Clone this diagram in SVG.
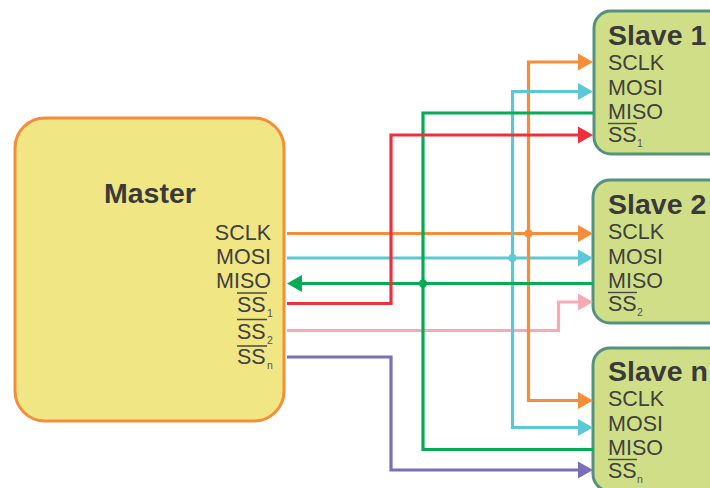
<svg xmlns="http://www.w3.org/2000/svg" width="710" height="488" viewBox="0 0 710 488">
<style>
text{font-family:"Liberation Sans",Arial,sans-serif;fill:#404040}
.t{font-size:28.5px;font-weight:bold;fill:#3a3a3a}
.st{font-size:28.5px;font-weight:bold;fill:#3a3a3a}
.l{font-size:21.500px}
.s{font-size:10.500px;fill:#555}
.r{text-anchor:end}
.o{stroke:#4a4a4a;stroke-width:1.4;fill:none}
.m{fill:#f0e683;stroke:#f68d3a;stroke-width:3}
.n{fill:#d0df87;stroke:#55917f;stroke-width:3}
.c{fill:none;stroke-width:3.2}
.org{stroke:#f68d3a}.blu{stroke:#5cc8d6}.grn{stroke:#06ab55}.red{stroke:#ee2f3c}.pnk{stroke:#f6abb4}.pur{stroke:#7a6fb8}
</style>
<defs>
<marker id="ao" markerUnits="userSpaceOnUse" markerWidth="16" markerHeight="18" refX="0" refY="9" orient="auto"><path d="M0 0.500L15 9L0 17.500Z" fill="#f68d3a"/></marker>
<marker id="ab" markerUnits="userSpaceOnUse" markerWidth="16" markerHeight="18" refX="0" refY="9" orient="auto"><path d="M0 0.500L15 9L0 17.500Z" fill="#5cc8d6"/></marker>
<marker id="ag" markerUnits="userSpaceOnUse" markerWidth="16" markerHeight="18" refX="0" refY="9" orient="auto"><path d="M0 0.500L15 9L0 17.500Z" fill="#06ab55"/></marker>
<marker id="ar" markerUnits="userSpaceOnUse" markerWidth="16" markerHeight="18" refX="0" refY="9" orient="auto"><path d="M0 0.500L15 9L0 17.500Z" fill="#ee2f3c"/></marker>
<marker id="ap" markerUnits="userSpaceOnUse" markerWidth="16" markerHeight="18" refX="0" refY="9" orient="auto"><path d="M0 0.500L15 9L0 17.500Z" fill="#f6abb4"/></marker>
<marker id="au" markerUnits="userSpaceOnUse" markerWidth="16" markerHeight="18" refX="0" refY="9" orient="auto"><path d="M0 0.500L15 9L0 17.500Z" fill="#7a6fb8"/></marker>
</defs>
<g id="master">
<rect class="m" x="15" y="118" width="269" height="303" rx="30"/>
<text class="t" x="104" y="203">Master</text>
<text class="l r" x="271" y="240">SCLK</text>
<text class="l r" x="271" y="264">MOSI</text>
<text class="l r" x="271" y="288">MISO</text>
<path class="o" d="M237 293H267M237 319.500H267M237 346H267"/>
<text class="l" x="237" y="312">SS</text><text class="s" x="267" y="317">1</text>
<text class="l" x="237" y="339">SS</text><text class="s" x="267" y="344">2</text>
<text class="l" x="237" y="364">SS</text><text class="s" x="267" y="369">n</text>
</g>
<g id="slave1">
<rect class="n" x="594" y="11" width="140" height="143" rx="17"/>
<text class="st" x="608" y="45">Slave 1</text>
<text class="l" x="608" y="70">SCLK</text>
<text class="l" x="608" y="95">MOSI</text>
<text class="l" x="608" y="119">MISO</text>
<path class="o" d="M608 123.500H637"/>
<text class="l" x="608" y="142">SS</text><text class="s" x="637" y="147">1</text>
</g>
<g id="slave2">
<rect class="n" x="593" y="180" width="140" height="143" rx="17"/>
<text class="st" x="608" y="214">Slave 2</text>
<text class="l" x="608" y="239">SCLK</text>
<text class="l" x="608" y="264">MOSI</text>
<text class="l" x="608" y="288">MISO</text>
<path class="o" d="M608 292.500H637"/>
<text class="l" x="608" y="311">SS</text><text class="s" x="637" y="316">2</text>
</g>
<g id="slaven">
<rect class="n" x="593" y="348" width="140" height="143" rx="17"/>
<text class="st" x="608" y="381">Slave n</text>
<text class="l" x="608" y="406">SCLK</text>
<text class="l" x="608" y="431">MOSI</text>
<text class="l" x="608" y="455">MISO</text>
<path class="o" d="M608 459.500H637"/>
<text class="l" x="608" y="478">SS</text><text class="s" x="637" y="483">n</text>
</g>
<g id="connectors">
<path class="c pnk" d="M287 330.500H558.500V302H578" marker-end="url(#ap)"/>
<path class="c org" d="M287 233.500H578" marker-end="url(#ao)"/>
<path class="c blu" d="M287 258H578" marker-end="url(#ab)"/>
<path class="c org" d="M528.500 233.500V62H578" marker-end="url(#ao)"/>
<path class="c org" d="M528.500 233.500V400.500H578" marker-end="url(#ao)"/>
<path class="c blu" d="M512.500 258V91.500H578" marker-end="url(#ab)"/>
<path class="c blu" d="M512.500 258V427.500H578" marker-end="url(#ab)"/>
<path class="c grn" d="M593 283.500H302" marker-end="url(#ag)"/>
<path class="c grn" d="M593 113H423V449.500H593"/>
<path class="c red" d="M287 303.500H391V135H578" marker-end="url(#ar)"/>
<path class="c pur" d="M287 357H391V470H578" marker-end="url(#au)"/>
<circle cx="528.500" cy="233.500" r="4" fill="#f68d3a"/>
<circle cx="512.500" cy="258" r="4" fill="#5cc8d6"/>
<circle cx="423" cy="283.500" r="4" fill="#06ab55"/>
</g>
</svg>
